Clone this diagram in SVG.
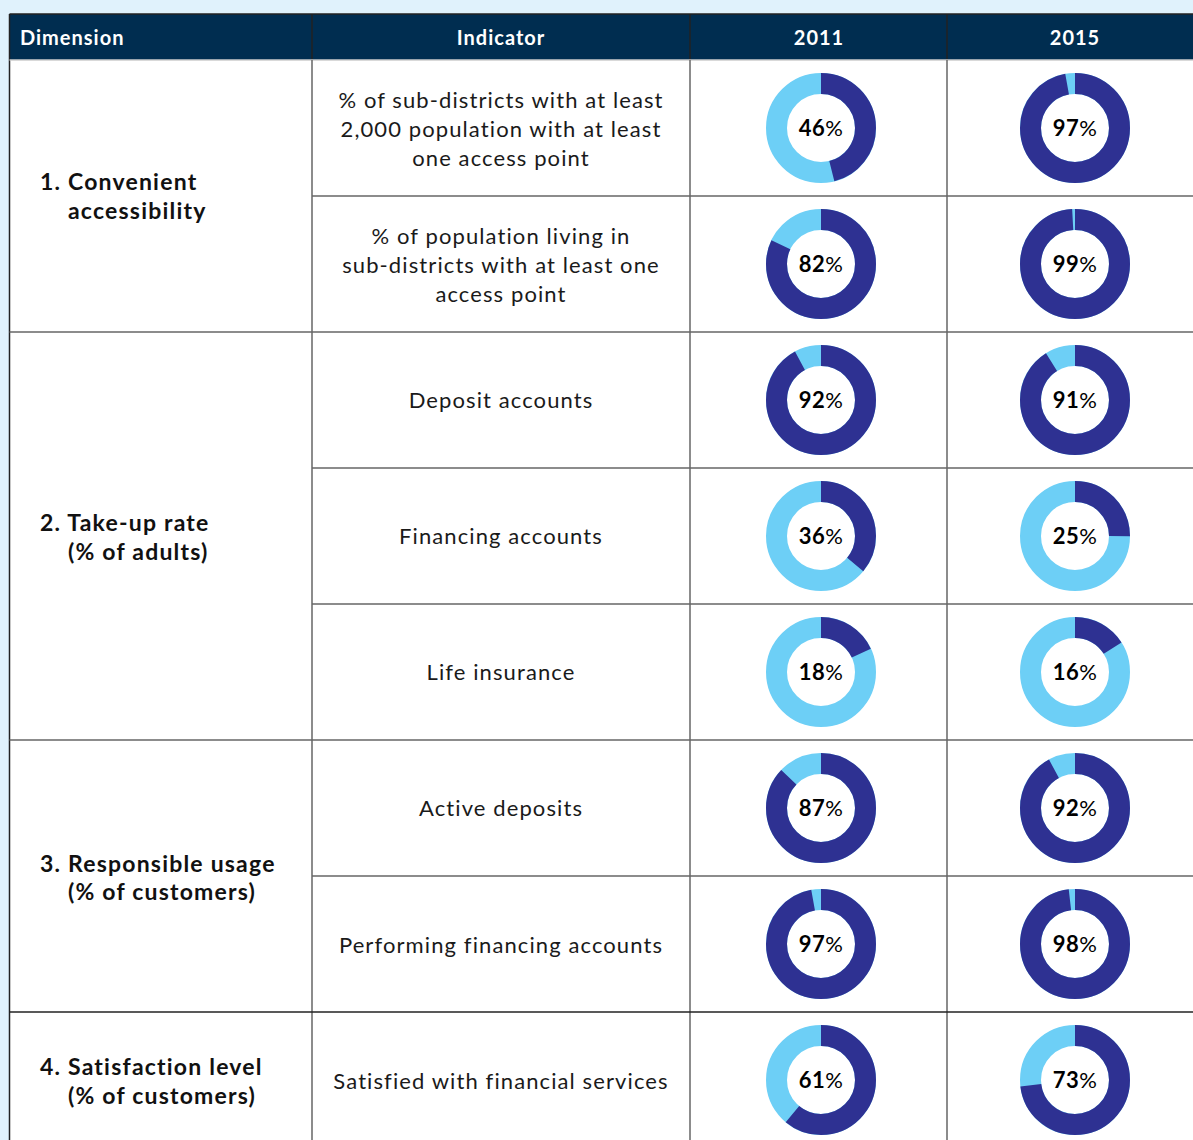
<svg xmlns="http://www.w3.org/2000/svg" width="1193" height="1140" viewBox="0 0 1193 1140">
<style>
.hdr{font-family:Lato,"Liberation Sans",sans-serif;font-weight:bold;font-size:20px;letter-spacing:1px;fill:#ffffff}
.dim{font-family:Lato,"Liberation Sans",sans-serif;font-weight:bold;font-size:23px;letter-spacing:1.2px;fill:#111111}
.ind{font-family:Lato,"Liberation Sans",sans-serif;font-size:22px;letter-spacing:1.1px;fill:#1a1a1a;text-anchor:middle}
.pct{font-family:Lato,"Liberation Sans",sans-serif;font-weight:bold;font-size:22px;letter-spacing:0.5px;fill:#000000;text-anchor:middle}
.pct tspan{font-weight:normal}
.bg{fill:none;stroke:#6dcff6;stroke-width:21}
.fg{fill:none;stroke:#2e3192;stroke-width:21}
.grid{stroke:#666666;stroke-width:1.5;fill:none}
.gridd{stroke:#222222;stroke-width:1.5;fill:none}
</style>
<rect x="0" y="0" width="1193" height="1140" fill="#e0f2fc"/>
<rect x="9.5" y="14" width="1184" height="1130" fill="#ffffff"/>
<rect x="9.5" y="14" width="1184" height="46" fill="#002d50"/>
<g id="connectors">
<line class="gridd" x1="9.5" y1="14" x2="9.5" y2="1140"/>
<line class="gridd" x1="9.5" y1="14" x2="1193" y2="14"/>
<line class="gridd" x1="312" y1="14" x2="312" y2="60"/>
<line class="gridd" x1="690" y1="14" x2="690" y2="60"/>
<line class="gridd" x1="947" y1="14" x2="947" y2="60"/>
<line x1="9.5" y1="60" x2="1193" y2="60" stroke="#cccccc" stroke-width="1.5"/>
<line class="grid" x1="312" y1="60" x2="312" y2="1140"/>
<line class="grid" x1="690" y1="60" x2="690" y2="1140"/>
<line class="grid" x1="947" y1="60" x2="947" y2="1140"/>
<line class="grid" x1="312" y1="196" x2="1193" y2="196"/>
<line class="grid" x1="9.5" y1="332" x2="1193" y2="332"/>
<line class="grid" x1="312" y1="468" x2="1193" y2="468"/>
<line class="grid" x1="312" y1="604" x2="1193" y2="604"/>
<line class="grid" x1="9.5" y1="740" x2="1193" y2="740"/>
<line class="grid" x1="312" y1="876" x2="1193" y2="876"/>
<line class="gridd" x1="9.5" y1="1012" x2="1193" y2="1012"/>
</g>
<g id="header">
<text class="hdr" x="20" y="45">Dimension</text>
<text class="hdr" x="501" y="45" text-anchor="middle">Indicator</text>
<text class="hdr" x="819" y="45" text-anchor="middle">2011</text>
<text class="hdr" x="1075" y="45" text-anchor="middle">2015</text>
</g>
<g id="dim1"><text class="dim" x="40" y="190">1. Convenient</text><text class="dim" x="68" y="219">accessibility</text></g>
<g id="dim2"><text class="dim" x="40" y="531">2. Take-up rate</text><text class="dim" x="68" y="560">(% of adults)</text></g>
<g id="dim3"><text class="dim" x="40" y="872">3. Responsible usage</text><text class="dim" x="68" y="900">(% of customers)</text></g>
<g id="dim4"><text class="dim" x="40" y="1075">4. Satisfaction level</text><text class="dim" x="68" y="1104">(% of customers)</text></g>
<g id="ind1"><text class="ind" x="501" y="108">% of sub-districts with at least</text><text class="ind" x="501" y="137">2,000 population with at least</text><text class="ind" x="501" y="166">one access point</text></g>
<g id="ind2"><text class="ind" x="501" y="244">% of population living in</text><text class="ind" x="501" y="273">sub-districts with at least one</text><text class="ind" x="501" y="302">access point</text></g>
<g id="ind3"><text class="ind" x="501" y="408">Deposit accounts</text></g>
<g id="ind4"><text class="ind" x="501" y="544">Financing accounts</text></g>
<g id="ind5"><text class="ind" x="501" y="680">Life insurance</text></g>
<g id="ind6"><text class="ind" x="501" y="816">Active deposits</text></g>
<g id="ind7"><text class="ind" x="501" y="953">Performing financing accounts</text></g>
<g id="ind8"><text class="ind" x="501" y="1089">Satisfied with financial services</text></g>
<g id="d1a" transform="translate(821,128)"><circle class="bg" r="44.5"/><circle class="fg" r="44.5" transform="rotate(-90)" stroke-dasharray="128.62 279.6"/><text class="pct" y="8">46<tspan>%</tspan></text></g>
<g id="d1b" transform="translate(1075,128)"><circle class="bg" r="44.5"/><circle class="fg" r="44.5" transform="rotate(-90)" stroke-dasharray="271.21 279.6"/><text class="pct" y="8">97<tspan>%</tspan></text></g>
<g id="d2a" transform="translate(821,264)"><circle class="bg" r="44.5"/><circle class="fg" r="44.5" transform="rotate(-90)" stroke-dasharray="229.27 279.6"/><text class="pct" y="8">82<tspan>%</tspan></text></g>
<g id="d2b" transform="translate(1075,264)"><circle class="bg" r="44.5"/><circle class="fg" r="44.5" transform="rotate(-90)" stroke-dasharray="276.80 279.6"/><text class="pct" y="8">99<tspan>%</tspan></text></g>
<g id="d3a" transform="translate(821,400)"><circle class="bg" r="44.5"/><circle class="fg" r="44.5" transform="rotate(-90)" stroke-dasharray="257.23 279.6"/><text class="pct" y="8">92<tspan>%</tspan></text></g>
<g id="d3b" transform="translate(1075,400)"><circle class="bg" r="44.5"/><circle class="fg" r="44.5" transform="rotate(-90)" stroke-dasharray="254.44 279.6"/><text class="pct" y="8">91<tspan>%</tspan></text></g>
<g id="d4a" transform="translate(821,536)"><circle class="bg" r="44.5"/><circle class="fg" r="44.5" transform="rotate(-90)" stroke-dasharray="100.66 279.6"/><text class="pct" y="8">36<tspan>%</tspan></text></g>
<g id="d4b" transform="translate(1075,536)"><circle class="bg" r="44.5"/><circle class="fg" r="44.5" transform="rotate(-90)" stroke-dasharray="69.90 279.6"/><text class="pct" y="8">25<tspan>%</tspan></text></g>
<g id="d5a" transform="translate(821,672)"><circle class="bg" r="44.5"/><circle class="fg" r="44.5" transform="rotate(-90)" stroke-dasharray="50.33 279.6"/><text class="pct" y="8">18<tspan>%</tspan></text></g>
<g id="d5b" transform="translate(1075,672)"><circle class="bg" r="44.5"/><circle class="fg" r="44.5" transform="rotate(-90)" stroke-dasharray="44.74 279.6"/><text class="pct" y="8">16<tspan>%</tspan></text></g>
<g id="d6a" transform="translate(821,808)"><circle class="bg" r="44.5"/><circle class="fg" r="44.5" transform="rotate(-90)" stroke-dasharray="243.25 279.6"/><text class="pct" y="8">87<tspan>%</tspan></text></g>
<g id="d6b" transform="translate(1075,808)"><circle class="bg" r="44.5"/><circle class="fg" r="44.5" transform="rotate(-90)" stroke-dasharray="257.23 279.6"/><text class="pct" y="8">92<tspan>%</tspan></text></g>
<g id="d7a" transform="translate(821,944)"><circle class="bg" r="44.5"/><circle class="fg" r="44.5" transform="rotate(-90)" stroke-dasharray="271.21 279.6"/><text class="pct" y="8">97<tspan>%</tspan></text></g>
<g id="d7b" transform="translate(1075,944)"><circle class="bg" r="44.5"/><circle class="fg" r="44.5" transform="rotate(-90)" stroke-dasharray="274.01 279.6"/><text class="pct" y="8">98<tspan>%</tspan></text></g>
<g id="d8a" transform="translate(821,1080)"><circle class="bg" r="44.5"/><circle class="fg" r="44.5" transform="rotate(-90)" stroke-dasharray="170.56 279.6"/><text class="pct" y="8">61<tspan>%</tspan></text></g>
<g id="d8b" transform="translate(1075,1080)"><circle class="bg" r="44.5"/><circle class="fg" r="44.5" transform="rotate(-90)" stroke-dasharray="204.11 279.6"/><text class="pct" y="8">73<tspan>%</tspan></text></g>
</svg>
